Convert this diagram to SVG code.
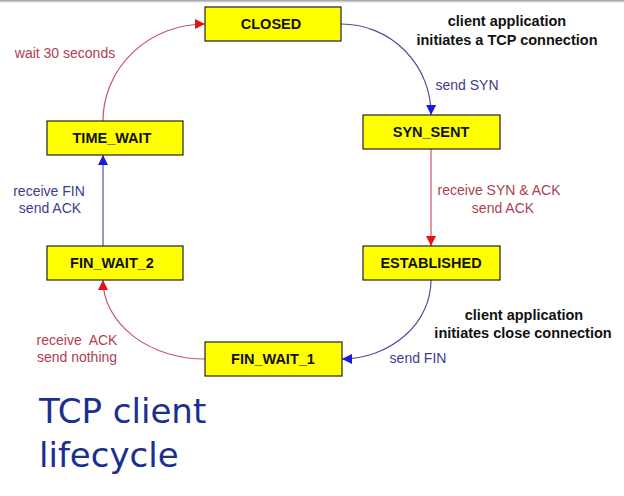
<svg xmlns="http://www.w3.org/2000/svg" width="624" height="496" viewBox="0 0 624 496">
<defs>
<linearGradient id="topbar" x1="0" y1="0" x2="0" y2="1">
<stop offset="0" stop-color="#999"/>
<stop offset="1" stop-color="#fff"/>
</linearGradient>
<marker id="ab" viewBox="0 0 10 10" refX="10" refY="5" markerWidth="10" markerHeight="10" markerUnits="userSpaceOnUse" orient="auto">
<path d="M0,0 L10,5 L0,10 z" fill="#1a1add"/>
</marker>
<marker id="ar" viewBox="0 0 10 10" refX="10" refY="5" markerWidth="10" markerHeight="10" markerUnits="userSpaceOnUse" orient="auto">
<path d="M0,0 L10,5 L0,10 z" fill="#e01515"/>
</marker>
</defs>
<style>
.node rect{fill:#ffff00;stroke:#222;stroke-width:1.2}
.node text{font-family:"Liberation Sans",Arial,sans-serif;font-weight:bold;font-size:14.5px;fill:#111;text-anchor:middle}
.eb{fill:none;stroke:#50509a;stroke-width:1.2;marker-end:url(#ab)}
.er{fill:none;stroke:#c05868;stroke-width:1.2;marker-end:url(#ar)}
.lb{font-family:"Liberation Sans",Arial,sans-serif;font-size:14px;fill:#3c3c90;text-anchor:middle}
.lr{font-family:"Liberation Sans",Arial,sans-serif;font-size:14px;fill:#b04050;text-anchor:middle}
.nt{font-family:"Liberation Sans",Arial,sans-serif;font-size:14.5px;font-weight:bold;fill:#111;text-anchor:middle}
.title{font-family:"DejaVu Sans",sans-serif;font-size:34px;fill:#1a2f8f}
</style>
<rect x="0" y="0" width="624" height="496" fill="#fff"/>
<rect x="0" y="0" width="624" height="3" fill="url(#topbar)"/>
<g id="connectors">
<path class="eb" d="M341,24 A90,90 0 0 1 431,115"/>
<path class="er" d="M431,149 L431,246"/>
<path class="eb" d="M431,280 A90,79 0 0 1 342,359"/>
<path class="er" d="M205,359 A102,79 0 0 1 103,280"/>
<path class="eb" d="M103,246 L103,155"/>
<path class="er" d="M103,121 A102,97 0 0 1 205,24"/>
</g>
<g id="labels">
<text class="lr" x="65" y="58">wait 30 seconds</text>
<text class="nt" x="507" y="26">client application</text>
<text class="nt" x="507" y="45">initiates a TCP connection</text>
<text class="lb" x="467" y="90">send SYN</text>
<text class="lr" x="499" y="195">receive SYN &amp; ACK</text>
<text class="lr" x="503" y="213">send ACK</text>
<text class="nt" x="524" y="320">client application</text>
<text class="nt" x="523" y="338">initiates close connection</text>
<text class="lb" x="418" y="363">send FIN</text>
<text class="lb" x="49" y="196">receive FIN</text>
<text class="lb" x="50" y="213">send ACK</text>
<text class="lr" x="77" y="345">receive&#160; ACK</text>
<text class="lr" x="77" y="362">send nothing</text>
</g>
<g id="CLOSED" class="node"><rect x="205" y="7" width="136" height="34"/><text x="271" y="29">CLOSED</text></g>
<g id="SYN_SENT" class="node"><rect x="363" y="115" width="137" height="34"/><text x="431" y="137">SYN_SENT</text></g>
<g id="ESTABLISHED" class="node"><rect x="363" y="246" width="137" height="34"/><text x="431" y="268">ESTABLISHED</text></g>
<g id="FIN_WAIT_1" class="node"><rect x="205" y="342" width="137" height="34"/><text x="273" y="364">FIN_WAIT_1</text></g>
<g id="FIN_WAIT_2" class="node"><rect x="47" y="246" width="136" height="34"/><text x="112" y="268">FIN_WAIT_2</text></g>
<g id="TIME_WAIT" class="node"><rect x="47" y="121" width="136" height="34"/><text x="112" y="143">TIME_WAIT</text></g>
<g id="title">
<text class="title" x="39" y="423">TCP client</text>
<text class="title" x="39" y="467">lifecycle</text>
</g>
</svg>
